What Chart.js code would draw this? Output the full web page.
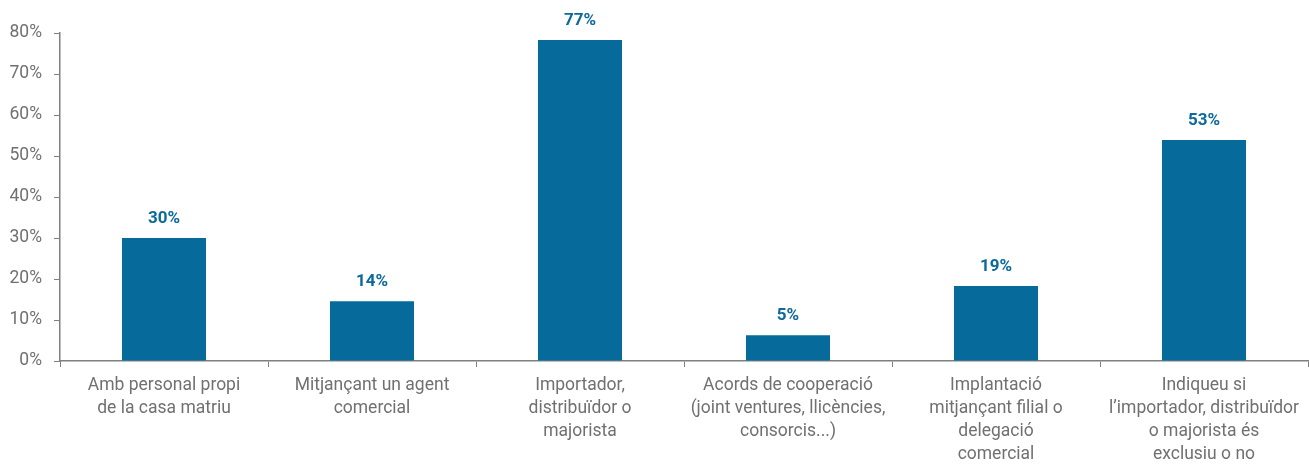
<!DOCTYPE html>
<html>
<head>
<meta charset="utf-8">
<script src="https://cdn.jsdelivr.net/npm/chart.js@4"></script>
<style>
    html, body { margin: 0; padding: 0; background: #fff; }
    #wrap { width: 1309px; height: 470px; position: relative; }
</style>
</head>
<body>
<div id="wrap"><canvas id="myChart"></canvas></div>
<script>
const categories = [
    ['Amb personal propi', 'de la casa matriu'],
    ['Mitjançant un agent', 'comercial'],
    ['Importador,', 'distribuïdor o', 'majorista'],
    ['Acords de cooperació', '(joint ventures, llicències,', 'consorcis...)'],
    ['Implantació', 'mitjançant filial o', 'delegació', 'comercial'],
    ['Indiqueu si', 'l\u2019importador, distribuïdor', 'o majorista és', 'exclusiu o no']
];

// bar heights as drawn, and the labels printed above them
const values = [30, 14.6, 78.3, 6.3, 18.3, 53.9];
const valueLabels = ['30%', '14%', '77%', '5%', '19%', '53%'];

const yTicks = [0, 10, 20, 30, 40, 50, 60, 70, 80];

const barColor = '#066a9b';
const textGrey = '#707070';
const axisGrey = '#7f7f7f';

// draws the % labels above each bar
const valueLabelPlugin = {
    id: 'valueLabels',
    afterDatasetsDraw(chart) {
        const ctx = chart.ctx;
        const meta = chart.getDatasetMeta(0);
        ctx.save();
        ctx.font = 'bold 17px Roboto';
        ctx.fillStyle = '#0b6a9a';
        ctx.textAlign = 'center';
        ctx.textBaseline = 'middle';
        meta.data.forEach((bar, i) => {
            ctx.fillText(valueLabels[i], bar.x, bar.y - 19);
        });
        ctx.restore();
    }
};

var ctx = document.getElementById('myChart').getContext('2d');

var chart = new Chart(ctx, { //eslint-disable-line
    type: 'bar',
    data: {
        labels: categories,
        datasets: [
            {
                data: values,
                backgroundColor: barColor,
                borderWidth: 0,
                categoryPercentage: 1,
                barPercentage: 0.404
            }
        ]
    },
    options: {
        responsive: true,
        maintainAspectRatio: false,
        animation: false,
        layout: { padding: { top: 33, right: 1, bottom: 0, left: 0 } },
        plugins: {
            legend: { display: false },
            tooltip: { enabled: false }
        },
        scales: {
            x: {
                grid: {
                    display: true,
                    drawOnChartArea: false,
                    drawTicks: true,
                    tickLength: 6,
                    color: axisGrey,
                    offset: true
                },
                border: { color: axisGrey, width: 1.5 },
                ticks: {
                    color: textGrey,
                    font: { family: 'Roboto', size: 17.5, lineHeight: 1.31 },
                    padding: 7,
                    maxRotation: 0,
                    autoSkip: false
                },
                afterFit(scale) { scale.height = 109; }
            },
            y: {
                min: 0,
                max: 80,
                afterBuildTicks(scale) {
                    scale.ticks = yTicks.map(v => ({ value: v }));
                },
                grid: {
                    display: true,
                    drawOnChartArea: false,
                    drawTicks: true,
                    tickLength: 6,
                    color: axisGrey
                },
                border: { color: axisGrey, width: 1.5 },
                ticks: {
                    color: textGrey,
                    font: { family: 'Roboto', size: 17.5 },
                    padding: 12,
                    callback: v => v + '%'
                },
                afterFit(scale) { scale.width = 60; }
            }
        }
    },
    plugins: [valueLabelPlugin]
});
</script>
</body>
</html>
